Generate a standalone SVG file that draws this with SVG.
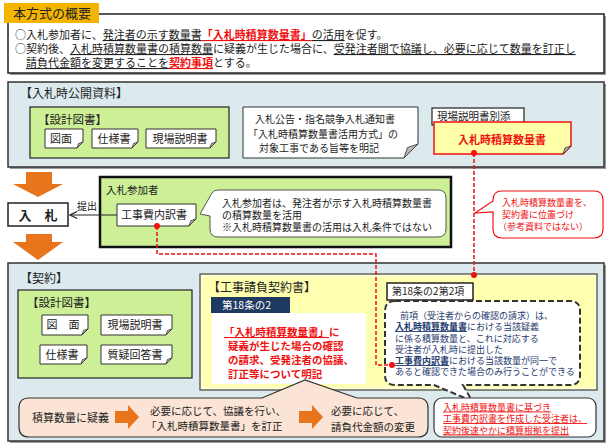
<svg xmlns="http://www.w3.org/2000/svg" width="612" height="447" viewBox="0 0 612 447">
<defs>
<style>
text{font-family:"Noto Sans CJK JP","Noto Sans CJK SC",sans-serif;fill:#222}
.sec{fill:#DCEAEE;stroke:#333;stroke-width:1.5}
.shadow{fill:#9A9A9A}
.grn{fill:#CDEF96;stroke:#222;stroke-width:1.2}
.doc{fill:#fff;stroke:#333;stroke-width:1}
.fold{fill:#B8B8B8;stroke:#333;stroke-width:0.8}
.t13{font-size:13px}
.t12{font-size:12px}
.t115{font-size:11.5px}
.t11{font-size:11px}
.t105{font-size:10.5px}
.t10{font-size:10px}
.t9{font-size:9px}
.red{fill:#F01010}
.navy{fill:#1F3B6E}
.b{font-weight:bold}
.ul{text-decoration:underline}
.dul{text-decoration:underline dotted}
.mid{text-anchor:middle}
.orange{fill:#E8741C}
.rdash{fill:none;stroke:#F01010;stroke-width:1.5;stroke-dasharray:4 2}
.dot{fill:#F01010}
</style>
<marker id="ah" viewBox="0 0 10 10" refX="9" refY="5" markerWidth="9" markerHeight="9" markerUnits="userSpaceOnUse" orient="auto">
<path d="M1,1 L9,5 L1,9" fill="none" stroke="#222" stroke-width="1.3"/>
</marker>
</defs>
<rect width="612" height="447" fill="#fff"/>

<!-- Overview -->
<g id="overview">
<rect x="10" y="16" width="596" height="59" class="shadow"/>
<rect x="8" y="14" width="596" height="59" fill="#fff" stroke="#222" stroke-width="1.5"/>
<rect x="4" y="3" width="95" height="20" fill="#F5B400"/>
<text x="13" y="18" class="t13">本方式の概要</text>
<text x="15" y="39" class="t11">○入札参加者に、<tspan class="dul">発注者の示す数量書</tspan><tspan class="red b ul">「入札時積算数量書」</tspan><tspan class="dul">の活用</tspan>を促す。</text>
<text x="15" y="53" class="t11">○契約後、<tspan class="dul">入札時積算数量書の積算数量</tspan>に疑義が生じた場合に、<tspan class="dul">受発注者間で協議し、必要に応じて数量を訂正し</tspan></text>
<text x="26" y="67" class="t11"><tspan class="dul">請負代金額を変更することを</tspan><tspan class="red b ul">契約事項</tspan>とする。</text>
</g>

<!-- Bid public materials -->
<g id="bid-public">
<rect x="10" y="84" width="596" height="85" class="shadow"/>
<rect x="8" y="82" width="596" height="85" class="sec"/>
<text x="20" y="97.5" class="t12">【入札時公開資料】</text>
</g>
<g id="design-docs-bid">
<rect x="30" y="107" width="199" height="51" class="grn"/>
<text x="38" y="124" class="t115">【設計図書】</text>
<path class="doc" d="M45,129 H83 V142 L77,148 H45 Z"/><path class="fold" d="M83,142 L77,148 L78.5,143.5 Z"/>
<text x="61" y="143" class="t11 mid">図面</text>
<path class="doc" d="M92,129 H138 V142 L132,148 H92 Z"/><path class="fold" d="M138,142 L132,148 L133.5,143.5 Z"/>
<text x="114" y="143" class="t11 mid">仕様書</text>
<path class="doc" d="M146,129 H216 V142 L210,148 H146 Z"/><path class="fold" d="M216,142 L210,148 L211.5,143.5 Z"/>
<text x="180" y="143" class="t11 mid">現場説明書</text>
</g>
<g id="notice">
<path class="doc" d="M243,107 H418 V144 L404,158 H243 Z"/><path class="fold" d="M418,144 L404,158 L407.5,147.5 Z"/>
<text x="255" y="123" class="t10">入札公告・指名競争入札通知書</text>
<text x="248" y="138" class="t10">「入札時積算数量書活用方式」の</text>
<text x="259" y="152" class="t10">対象工事である旨等を明記</text>
</g>
<g id="quantity-doc">
<rect x="432" y="108" width="92" height="17" fill="#fff" stroke="#222" stroke-width="1.2"/>
<text x="437" y="120" class="t105">現場説明書別添</text>
<path d="M434,122 H571 V146 L563,154 H434 Z" fill="#FFFFAA" stroke="#F01010" stroke-width="1.5"/>
<path class="fold" d="M571,146 L563,154 L565,148 Z"/>
<text x="502" y="144" class="t11 red b mid">入札時積算数量書</text>
</g>

<!-- Bidder -->
<g id="bid">
<rect x="8" y="203" width="60" height="23" fill="#fff" stroke="#222" stroke-width="1.5"/>
<text x="38" y="219.5" class="t13 b mid">入　札</text>
</g>
<g id="bidder">
<rect x="100" y="177" width="351" height="70" fill="#CDEF96" stroke="#111" stroke-width="2.5"/>
<text x="106" y="194" class="t105">入札参加者</text>
<path class="doc" d="M117,204 H196 V219 L189,226 H117 Z"/><path class="fold" d="M196,219 L189,226 L190.75,220.75 Z"/>
<text x="154" y="219" class="t11 mid">工事費内訳書</text>
<path d="M218,190 H438 Q446,190 446,198 V229 Q446,237 438,237 H218 Q210,237 210,229 V216 L200,214 L212,193 Q214,190 218,190 Z" fill="#fff" stroke="#555" stroke-width="1"/>
<text x="222" y="206.5" class="t10">入札参加者は、発注者が示す入札時積算数量書</text>
<text x="222" y="218.5" class="t10">の積算数量を活用</text>
<text x="222" y="230.5" class="t10">※入札時積算数量書の活用は入札条件ではない</text>
</g>
<g id="contract-note">
<path d="M502,191 H594 Q603,191 603,200 V229 Q603,238 594,238 H502 Q493,238 493,229 V212 L475,213 L493,201 V200 Q493,191 502,191 Z" fill="#fff" stroke="#F01010" stroke-width="1.2"/>
<text x="502" y="206" class="t9 red">入札時積算数量書を、</text>
<text x="502" y="218" class="t9 red">契約書に位置づけ</text>
<text x="498" y="229.5" class="t9 red">（参考資料ではない）</text>
</g>

<!-- Contract -->
<g id="contract">
<rect x="10" y="265" width="596" height="178" class="shadow"/>
<rect x="8" y="263" width="596" height="178" class="sec"/>
<text x="20" y="283" class="t12">【契約】</text>
</g>
<g id="design-docs-contract">
<rect x="18" y="290" width="174" height="88" class="grn"/>
<text x="27" y="307" class="t115">【設計図書】</text>
<path class="doc" d="M42,315 H88 V329 L82,335 H42 Z"/><path class="fold" d="M88,329 L82,335 L83.5,330.5 Z"/>
<text x="63" y="329" class="t11 mid">図　面</text>
<path class="doc" d="M101,315 H172 V329 L166,335 H101 Z"/><path class="fold" d="M172,329 L166,335 L167.5,330.5 Z"/>
<text x="135" y="329" class="t11 mid">現場説明書</text>
<path class="doc" d="M40,345 H87 V358 L81,364 H40 Z"/><path class="fold" d="M87,358 L81,364 L82.5,359.5 Z"/>
<text x="62" y="358.5" class="t11 mid">仕様書</text>
<path class="doc" d="M101,345 H172 V358 L166,364 H101 Z"/><path class="fold" d="M172,358 L166,364 L167.5,359.5 Z"/>
<text x="135" y="358.5" class="t11 mid">質疑回答書</text>
</g>
<g id="construction-contract">
<rect x="200" y="274" width="397" height="116" fill="#FFFFB0" stroke="#444" stroke-width="1.2"/>
<rect x="202" y="276" width="393" height="112" fill="none" stroke="#fff" stroke-width="1"/>
<text x="208" y="292" class="t12">【工事請負契約書】</text>
<rect x="211" y="297" width="79" height="16" fill="#1F3A60"/>
<text x="222" y="309" class="t105" fill="#fff" style="fill:#fff">第18条の2</text>
<rect x="212" y="313" width="154" height="71" fill="#fff"/>
<text x="224" y="336" class="t105 red b"><tspan class="ul">「入札時積算数量書」</tspan>に</text>
<text x="228" y="350" class="t105 red b">疑義が生じた場合の確認</text>
<text x="228" y="364" class="t105 red b">の請求、受発注者の協議、</text>
<text x="228" y="378" class="t105 red b">訂正等について明記</text>
</g>
<g id="article-18-2-2">
<rect x="387" y="283" width="86" height="17" fill="#fff" stroke="#222" stroke-width="1.5"/>
<text x="392" y="295" class="t10">第18条の2第2項</text>
<path d="M395,301 H570 Q580,301 580,311 V375 Q580,385 570,385 H463 L472,401 L434,385 H395 Q385,385 385,375 V311 Q385,301 395,301 Z" fill="#fff" stroke="#333" stroke-width="2" stroke-dasharray="6 3"/>
<text x="400" y="318.5" class="t9 navy">前項（受注者からの確認の請求）は、</text>
<text x="395" y="330" class="t9 navy"><tspan class="b ul">入札時積算数量書</tspan>における当該疑義</text>
<text x="395" y="341.5" class="t9 navy">に係る積算数量と、これに対応する</text>
<text x="395" y="353" class="t9 navy">受注者が入札時に提出した</text>
<text x="395" y="364" class="t9 navy"><tspan class="b ul">工事費内訳書</tspan>における当該数量が同一で</text>
<text x="395" y="375" class="t9 navy">あると確認できた場合のみ行うことができる</text>
</g>
<g id="flow">
<path d="M29,398 H262 L305,380 L357,398 H418 Q428,398 428,408 V427 Q428,437 418,437 H29 Q19,437 19,427 V408 Q19,398 29,398 Z" fill="#FBE4D5" stroke="#333" stroke-width="1.2"/>
<text x="32" y="422" class="t11">積算数量に疑義</text>
<text x="150" y="415" class="t105">必要に応じて、協議を行い、</text>
<text x="146" y="430" class="t105">「入札時積算数量書」を訂正</text>
<text x="331" y="415" class="t105">必要に応じて、</text>
<text x="331" y="431" class="t105">請負代金額の変更</text>
</g>
<g id="basis-note">
<rect x="434" y="398" width="162" height="39" rx="8" fill="#fff" stroke="#333" stroke-width="1.2"/>
<text x="443" y="410.5" class="t9 red ul">入札時積算数量書に基づき</text>
<text x="443" y="422" class="t9 red ul">工事費内訳書を作成した受注者は、</text>
<text x="443" y="433.5" class="t9 red ul">契約後速やかに積算根拠を提出</text>
</g>

<!-- Connectors -->
<g id="connectors">
<path class="orange" d="M26,172 H52 V184 H63 L38,197 L13,184 H26 Z"/>
<path class="orange" d="M26,234 H52 V242 H63 L38,260 L13,242 H26 Z"/>
<path class="orange" d="M115,411 H128 V405 L139,417 L128,429 V423 H115 Z"/>
<path class="orange" d="M299,411 H312 V405 L323,417 L312,429 V423 H299 Z"/>
<line x1="117" y1="215" x2="70" y2="215" stroke="#222" stroke-width="1.2" marker-end="url(#ah)"/>
<text x="77" y="210" class="t10">提出</text>
<path class="rdash" d="M474,153 V275"/>
<circle class="dot" cx="474" cy="153" r="3"/>
<circle class="dot" cx="474" cy="275" r="3"/>
<path class="rdash" d="M157,226 V254 H376 V365 H392"/>
<circle class="dot" cx="157" cy="226" r="3"/>
<circle class="dot" cx="392" cy="365" r="3"/>
</g>
</svg>
